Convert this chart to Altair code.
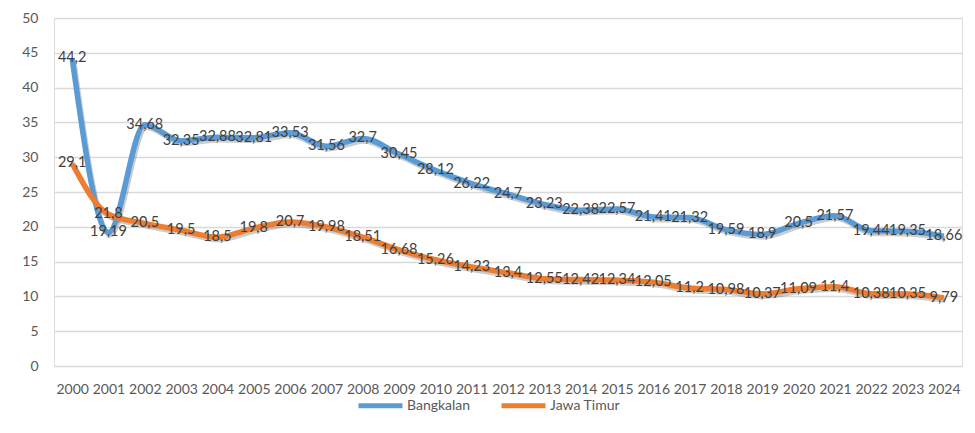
import altair as alt
import pandas as pd

years = [str(y) for y in range(2000, 2025)]
bangkalan = [44.2, 19.19, 34.68, 32.35, 32.88, 32.81, 33.53, 31.56, 32.7, 30.45,
             28.12, 26.22, 24.7, 23.23, 22.38, 22.57, 21.41, 21.32, 19.59, 18.9,
             20.5, 21.57, 19.44, 19.35, 18.66]
jawa_timur = [29.1, 21.8, 20.5, 19.5, 18.5, 19.8, 20.7, 19.98, 18.51, 16.68,
              15.26, 14.23, 13.4, 12.55, 12.42, 12.34, 12.05, 11.2, 10.98, 10.37,
              11.09, 11.4, 10.38, 10.35, 9.79]
series = ["Bangkalan", "Jawa Timur"]
colors = ["#5B9BD5", "#ED7D31"]

rows = []
for name, vals in zip(series, [bangkalan, jawa_timur]):
    for y, v in zip(years, vals):
        rows.append({"Tahun": y, "Nilai": v, "Seri": name,
                     "Label": ("%g" % v).replace(".", ",")})
df = pd.DataFrame(rows)

FONT = "Lato"

x = alt.X("Tahun:O", title=None,
          scale=alt.Scale(paddingOuter=0.5),
          axis=alt.Axis(labelAngle=0, labelFontSize=14, labelColor="#595959",
                        labelFont=FONT, ticks=False, domain=False,
                        labelPadding=16, grid=False))
y = alt.Y("Nilai:Q", title=None,
          scale=alt.Scale(domain=[0, 50], nice=False),
          axis=alt.Axis(values=list(range(0, 51, 5)), labelFontSize=14,
                        labelColor="#595959", labelFont=FONT, ticks=False,
                        domain=False, labelPadding=16, gridColor="#d9d9d9",
                        gridWidth=1.3))

base = alt.Chart(df)

shadow = base.mark_line(strokeWidth=5.5, color="#000000", opacity=0.2,
                        interpolate="monotone", xOffset=1.5, yOffset=2.5).encode(
    x=x, y=y, detail="Seri:N")

lines = base.mark_line(strokeWidth=5.5, interpolate="monotone").encode(
    x=x, y=y,
    color=alt.Color("Seri:N", title=None,
                    scale=alt.Scale(domain=series, range=colors),
                    legend=alt.Legend(orient="none", direction="horizontal",
                                      legendX=302, legendY=363,
                                      symbolType="stroke", symbolSize=1936,
                                      symbolStrokeWidth=5, labelFontSize=14,
                                      labelFont=FONT, labelColor="#595959",
                                      labelOffset=2, columnPadding=20)))

labels = base.mark_text(fontSize=14.5, font=FONT, color="#404040",
                        align="center", baseline="middle").encode(
    x=x, y=y, text="Label:N")

chart = (shadow + lines + labels).properties(
    width=908, height=348,
    padding={"left": 46, "top": 10, "right": 5, "bottom": 55},
    autosize=alt.AutoSizeParams(type="none"),
).configure_view(stroke=None).configure(background="white")

chart.save("out.html", embed_options={"renderer": "svg", "actions": False})
